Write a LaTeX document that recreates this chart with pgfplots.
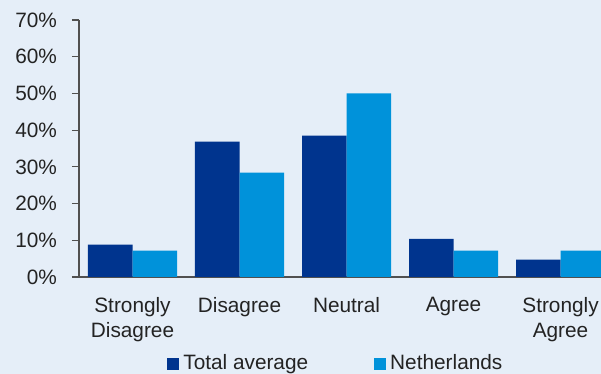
\documentclass[border=0pt]{standalone}
\usepackage{fontspec}
\setmainfont{Liberation Sans}
\usepackage{pgfplots}
\pgfplotsset{compat=1.18}
\definecolor{bg}{RGB}{229,238,248}
\definecolor{navy}{RGB}{0,52,142}
\definecolor{cyanb}{RGB}{0,146,218}
\definecolor{axisgray}{RGB}{80,80,80}
\definecolor{txt}{RGB}{35,35,35}
\pgfplotsset{sqlegend/.style={legend image code/.code={\fill[##1] (0pt,-3pt) rectangle (6pt,3pt);}}}
\begin{document}
\begin{tikzpicture}
\fill[bg] (0,0) rectangle (300.5pt,187pt);
\useasboundingbox (0,0) rectangle (300.5pt,187pt);
\begin{axis}[
  at={(39.5pt,48.5pt)}, anchor=south west,
  scale only axis, width=261pt, height=128.5pt,
  ybar=0pt, bar width=0.416,
  xmin=-0.5, xmax=4.378, ymin=0, ymax=70,
  axis x line*=bottom, axis y line*=left,
  axis line style={axisgray, line width=0.6pt},
  ytick={0,10,...,70},
  yticklabels={0\%,10\%,20\%,30\%,40\%,50\%,60\%,70\%},
  xtick={0,1,2,3,4},
  xticklabels={Strongly\\Disagree, Disagree, Neutral, Agree, Strongly\\Agree},
  tick label style={font=\fontsize{10.4}{12.5}\selectfont, text=txt},
  xticklabel style={align=center, anchor=north, yshift=-3pt},
  yticklabel style={xshift=-4pt},
  x tick style={draw=none},
  minor xtick={-0.5,0.5,1.5,2.5,3.5},
  minor x tick style={axisgray, line width=0.6pt},
  y tick style={axisgray, line width=0.6pt},
  tick align=outside,
  major tick length=3.5pt,
  minor tick length=3pt,
  legend style={at={(axis description cs:0.157,-0.337)}, anchor=west, draw=none, fill=none,
    font=\fontsize{10.4}{12}\selectfont, text=txt,
    /tikz/every even column/.append style={column sep=31pt}},
  legend columns=2,
]
\addplot[fill=navy, draw=none, sqlegend] coordinates {(0,8.8) (1,36.9) (2,38.5) (3,10.4) (4,4.7)};
\addplot[fill=cyanb, draw=none, sqlegend] coordinates {(0,7.2) (1,28.4) (2,50.0) (3,7.2) (4,7.2)};
\legend{Total average, Netherlands}
\end{axis}
\end{tikzpicture}
\end{document}
